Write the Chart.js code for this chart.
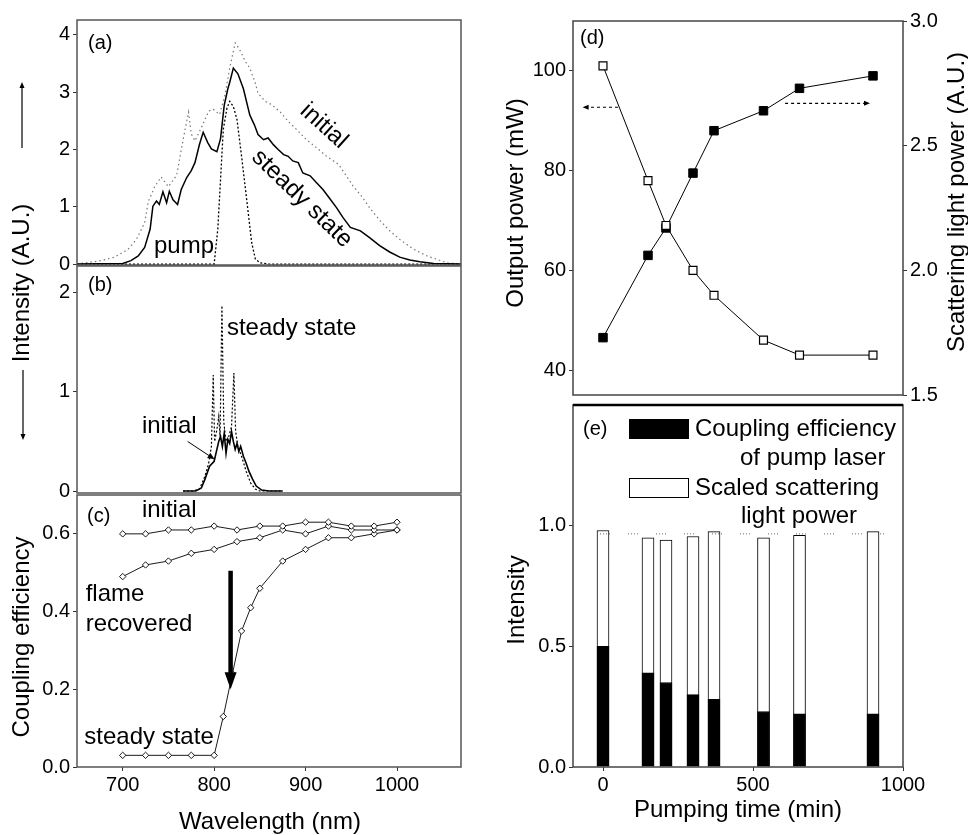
<!DOCTYPE html>
<html lang="en">
<head>
<meta charset="UTF-8">
<title>Spectra, coupling efficiency and pumping time</title>
<style>
  body { margin: 0; background: #fff; }
  #fig { position: relative; width: 968px; height: 835px; background: #fff; overflow: hidden; }
  #fig canvas { position: absolute; }
</style>
</head>
<body>
<div id="fig">
  <canvas id="chartA" width="480" height="280" style="left:0;top:0"></canvas>
  <canvas id="chartB" width="480" height="328" style="left:0;top:180px"></canvas>
  <canvas id="chartC" width="480" height="355" style="left:0;top:480px"></canvas>
  <canvas id="chartD" width="478" height="410" style="left:490px;top:0"></canvas>
  <canvas id="chartE" width="478" height="445" style="left:490px;top:390px"></canvas>
</div>
<script src="https://cdn.jsdelivr.net/npm/chart.js"></script>
<script>
// ---- (a) emission spectra ----
const nmSteadyA = [650, 700, 709, 717, 724, 730, 733, 737, 740, 744, 748, 751, 755, 760, 764, 770, 775, 779, 784, 788, 793, 797, 803, 807, 811, 815, 817, 821, 826, 832, 839, 844, 848, 854, 859, 865, 870, 876, 881, 886, 892, 897, 905, 912, 919, 927, 934, 941, 949, 960, 970, 981, 992, 1003, 1014, 1025, 1040, 1070];
const steadyA = [0, 0.01, 0.06, 0.14, 0.29, 0.61, 1.01, 1.10, 1.04, 1.26, 1.07, 1.27, 1.12, 1.04, 1.30, 1.51, 1.63, 1.77, 2.09, 2.30, 2.12, 2.01, 1.96, 2.19, 2.77, 3.06, 3.17, 3.42, 3.32, 3.06, 2.60, 2.43, 2.26, 2.17, 2.20, 2.08, 2.00, 1.91, 1.88, 1.80, 1.77, 1.59, 1.54, 1.42, 1.30, 1.13, 0.98, 0.81, 0.64, 0.58, 0.46, 0.32, 0.21, 0.12, 0.07, 0.04, 0.01, 0];
const nmInitialA = [650, 677, 691, 706, 715, 724, 728, 735, 742, 750, 759, 764, 768, 772, 775, 779, 786, 794, 799, 806, 812, 817, 823, 828, 834, 839, 845, 848, 856, 863, 872, 881, 890, 901, 912, 923, 936, 945, 952, 961, 971, 982, 992, 1003, 1018, 1033, 1044, 1055, 1070];
const initialA = [0, 0.06, 0.12, 0.26, 0.43, 0.72, 1.09, 1.35, 1.52, 1.35, 1.55, 1.99, 2.33, 2.65, 2.27, 2.15, 2.38, 2.67, 2.70, 2.61, 2.96, 3.42, 3.86, 3.74, 3.54, 3.42, 3.16, 2.98, 2.84, 2.78, 2.66, 2.49, 2.35, 2.17, 2.03, 1.88, 1.74, 1.53, 1.36, 1.19, 0.96, 0.75, 0.58, 0.43, 0.26, 0.14, 0.08, 0.02, 0];
const nmPumpA = [650, 800, 804, 807, 810, 814, 817, 821, 825, 830, 836, 841, 845, 850, 860, 1070];
const pumpA = [0, 0, 0.61, 1.48, 2.35, 2.72, 2.84, 2.75, 2.52, 1.88, 1.07, 0.38, 0.09, 0.02, 0, 0];

// ---- (b) transmitted pump spectra ----
const nmSteadyB = [766, 777, 784, 790, 794, 797, 799, 800.5, 803, 805, 806.5, 808.5, 810.5, 813, 816, 819, 821.6, 823.5, 826, 830, 835, 840, 845, 850, 875];
const steadyB = [0, 0, 0.02, 0.15, 0.28, 0.45, 1.17, 0.5, 0.62, 0.75, 0.55, 1.87, 0.7, 0.5, 0.55, 0.65, 1.19, 0.6, 0.45, 0.35, 0.2, 0.08, 0.02, 0, 0];
const nmInitialB = [766, 780, 786, 790, 795, 800, 803, 805, 807, 809, 811, 813, 815, 817, 819, 821, 823, 825, 827, 829, 832, 835, 838, 842, 846, 852, 860, 875];
const initialB = [0, 0, 0.03, 0.12, 0.25, 0.30, 0.42, 0.50, 0.55, 0.45, 0.58, 0.38, 0.52, 0.48, 0.60, 0.50, 0.42, 0.48, 0.40, 0.45, 0.35, 0.28, 0.20, 0.12, 0.05, 0.01, 0, 0];

// ---- (c) coupling efficiency ----
const nmC = [700, 725, 750, 775, 800, 825, 850, 875, 900, 925, 950, 975, 1000];
const initialC = [0.60, 0.60, 0.61, 0.61, 0.62, 0.61, 0.62, 0.62, 0.63, 0.63, 0.62, 0.62, 0.63];
const flameC = [0.49, 0.52, 0.53, 0.55, 0.56, 0.58, 0.59, 0.61, 0.60, 0.62, 0.61, 0.61, 0.61];
const nmSteadyC = [700, 725, 750, 775, 800, 810, 820, 830, 840, 850, 875, 900, 925, 950, 975, 1000];
const steadyC = [0.03, 0.03, 0.03, 0.03, 0.03, 0.13, 0.24, 0.35, 0.41, 0.46, 0.53, 0.56, 0.59, 0.59, 0.60, 0.61];

// ---- (d), (e) versus pumping time ----
const pumpTime = [0, 150, 210, 300, 370, 535, 655, 900];
const outputPower = [101, 78, 69, 60, 55, 46, 43, 43];
const scatterPower = [1.73, 2.06, 2.17, 2.39, 2.56, 2.64, 2.73, 2.78];
const couplingEff = [0.50, 0.39, 0.35, 0.30, 0.28, 0.23, 0.22, 0.22];
const barTotal = [0.98, 0.95, 0.94, 0.955, 0.975, 0.95, 0.96, 0.975];
const refLevel = 0.966;

const ticksWl = [700, 800, 900, 1000];
const ticksA = [0, 1, 2, 3, 4];
const ticksB = [0, 1, 2];
const ticksC = [0, 0.2, 0.4, 0.6];
const ticksPower = [40, 60, 80, 100];
const ticksScatter = [1.5, 2.0, 2.5, 3.0];
const ticksTime = [0, 500, 1000];
const ticksE = [0, 0.5, 1.0];

const FONT = '"Liberation Sans", Arial, sans-serif';
Chart.defaults.font.family = FONT;
Chart.defaults.font.size = 20;
Chart.defaults.color = '#000';

function xy(xs, ys) { return xs.map((x, i) => ({ x: x, y: ys[i] })); }

function label(ctx, s, x, y, size, align, angle) {
  ctx.save();
  ctx.font = size + 'px ' + FONT;
  ctx.fillStyle = '#000';
  ctx.textAlign = align || 'left';
  ctx.textBaseline = 'middle';
  ctx.translate(x, y);
  if (angle) ctx.rotate(angle * Math.PI / 180);
  ctx.fillText(s, 0, 0);
  ctx.restore();
}

function arrow(ctx, x1, y1, x2, y2, o) {
  o = o || {};
  const head = o.head || 6, hw = o.hw || 3;
  const a = Math.atan2(y2 - y1, x2 - x1), c = Math.cos(a), s = Math.sin(a);
  ctx.save();
  ctx.strokeStyle = '#000';
  ctx.fillStyle = '#000';
  ctx.lineWidth = o.width || 1;
  ctx.setLineDash(o.dash || []);
  ctx.beginPath();
  ctx.moveTo(x1, y1);
  ctx.lineTo(x2 - c * head * 0.8, y2 - s * head * 0.8);
  ctx.stroke();
  ctx.setLineDash([]);
  const bx = x2 - c * head, by = y2 - s * head;
  ctx.beginPath();
  ctx.moveTo(x2, y2);
  ctx.lineTo(bx - s * hw, by + c * hw);
  ctx.lineTo(bx + s * hw, by - c * hw);
  ctx.closePath();
  ctx.fill();
  ctx.restore();
}

const frame = {
  id: 'frame',
  afterDraw(chart, args, opts) {
    const { ctx, chartArea: a } = chart;
    ctx.save();
    ctx.strokeStyle = opts.color || '#555';
    ctx.lineWidth = opts.width || 1.5;
    ctx.strokeRect(a.left, a.top, a.right - a.left, a.bottom - a.top);
    ctx.restore();
  }
};
Chart.register(frame);

function axis(min, max, ticks, size, fmt, position) {
  const horizontal = position === 'bottom';
  return {
    type: 'linear', position: position, min: min, max: max,
    offset: false,
    afterFit: s => { if (horizontal) s.height = size; else s.width = size; },
    afterBuildTicks: s => { s.ticks = ticks.map(v => ({ value: v })); },
    grid: { drawOnChartArea: false, tickLength: 4, color: '#333', offset: false },
    border: { display: false },
    ticks: { padding: horizontal ? 2 : 3, callback: fmt, autoSkip: false, maxRotation: 0 }
  };
}
const hidden = (min, max) => ({ type: 'linear', display: false, min: min, max: max, offset: false });
const int = v => String(v);
const dec1 = v => v.toFixed(1);

function options(padding, scales, frameOpts) {
  return {
    responsive: false,
    animation: false,
    events: [],
    layout: { padding: padding },
    scales: scales,
    elements: { line: { tension: 0 } },
    plugins: { legend: { display: false }, tooltip: { enabled: false }, frame: frameOpts || {} }
  };
}

// ---------- (a) ----------
new Chart(document.getElementById('chartA'), {
  type: 'line',
  data: {
    datasets: [
      { data: xy(nmSteadyA, steadyA), borderColor: '#000', borderWidth: 1.5, pointRadius: 0 },
      { data: xy(nmInitialA, initialA), borderColor: '#777', borderWidth: 1.2, borderDash: [1.5, 3], pointRadius: 0 },
      { data: xy(nmPumpA, pumpA), borderColor: '#000', borderWidth: 1.3, borderDash: [2, 2], pointRadius: 0 }
    ]
  },
  options: options({ top: 20, bottom: 14, left: 0, right: 19 }, {
    x: hidden(650, 1070),
    y: axis(-0.017, 4.26, ticksA, 77, int, 'left')
  }),
  plugins: [{
    id: 'notesA',
    afterDraw(chart) {
      const { ctx, scales: { x, y } } = chart;
      label(ctx, '(a)', x.left + 11, y.top + 23, 20);
      label(ctx, 'pump', x.getPixelForValue(767), y.getPixelForValue(0.30), 24, 'center');
      label(ctx, 'initial', x.getPixelForValue(920), y.getPixelForValue(2.41), 24, 'center', 42);
      label(ctx, 'steady state', x.getPixelForValue(896), y.getPixelForValue(1.14), 24, 'center', 44);
      arrow(ctx, 22, 148, 22, 82, { width: 1.2, head: 6, hw: 2.5 });
    }
  }]
});

// ---------- (b) ----------
new Chart(document.getElementById('chartB'), {
  type: 'line',
  data: {
    datasets: [
      { data: xy(nmInitialB, initialB), borderColor: '#000', borderWidth: 1.6, pointRadius: 0 },
      { data: xy(nmSteadyB, steadyB), borderColor: '#000', borderWidth: 1.2, borderDash: [2, 2], pointRadius: 0 }
    ]
  },
  options: options({ top: 86, bottom: 14, left: 0, right: 19 }, {
    x: hidden(650, 1070),
    y: axis(-0.02, 2.27, ticksB, 77, int, 'left')
  }),
  plugins: [{
    id: 'notesB',
    afterDraw(chart) {
      const { ctx, scales: { x, y } } = chart;
      label(ctx, '(b)', x.left + 11, y.top + 19, 20);
      label(ctx, 'steady state', x.getPixelForValue(814), y.getPixelForValue(1.64), 24);
      label(ctx, 'initial', x.getPixelForValue(721), y.getPixelForValue(0.65), 24);
      arrow(ctx, x.getPixelForValue(771), y.getPixelForValue(0.50), x.getPixelForValue(800.5), y.getPixelForValue(0.32), { width: 1, head: 7, hw: 3 });
      label(ctx, 'Intensity (A.U.)', 22, 103, 24, 'center', -90);
      arrow(ctx, 23, 190, 23, 260, { width: 1.2, head: 6, hw: 2.5 });
    }
  }]
});

// ---------- (c) ----------
const diamond = { pointStyle: 'rectRot', pointRadius: 3.2, pointBackgroundColor: '#fff', pointBorderColor: '#000', pointBorderWidth: 0.9, borderColor: '#000', borderWidth: 0.9 };
new Chart(document.getElementById('chartC'), {
  type: 'line',
  data: {
    datasets: [
      Object.assign({ data: xy(nmC, initialC) }, diamond),
      Object.assign({ data: xy(nmC, flameC) }, diamond),
      Object.assign({ data: xy(nmSteadyC, steadyC) }, diamond)
    ]
  },
  options: options({ top: 14, bottom: 0, left: 0, right: 19 }, {
    x: axis(650, 1070, ticksWl, 68, int, 'bottom'),
    y: axis(0, 0.70, ticksC, 77, dec1, 'left')
  }),
  plugins: [{
    id: 'notesC',
    afterDraw(chart) {
      const { ctx, scales: { x, y } } = chart;
      label(ctx, '(c)', x.left + 10, y.top + 21, 20);
      label(ctx, 'initial', x.getPixelForValue(721), y.getPixelForValue(0.66), 24);
      label(ctx, 'flame', x.getPixelForValue(659.5), y.getPixelForValue(0.445), 24);
      label(ctx, 'recovered', x.getPixelForValue(659.5), y.getPixelForValue(0.368), 24);
      label(ctx, 'steady state', x.getPixelForValue(658), y.getPixelForValue(0.075), 24);
      arrow(ctx, x.getPixelForValue(818), y.getPixelForValue(0.505), x.getPixelForValue(818), y.getPixelForValue(0.20), { width: 4.5, head: 17, hw: 6 });
      label(ctx, 'Coupling efficiency', 22, 157, 24, 'center', -90);
      label(ctx, 'Wavelength (nm)', 270, 342, 24, 'center');
    }
  }]
});

// ---------- (d) ----------
new Chart(document.getElementById('chartD'), {
  type: 'line',
  data: {
    datasets: [
      { data: xy(pumpTime, outputPower), yAxisID: 'yL', borderColor: '#000', borderWidth: 1, pointStyle: 'rect', pointRadius: 5.6, pointBackgroundColor: '#fff', pointBorderColor: '#000', pointBorderWidth: 1.2 },
      { data: xy(pumpTime, scatterPower), yAxisID: 'yR', borderColor: '#000', borderWidth: 1, pointStyle: 'rect', pointRadius: 6, pointBackgroundColor: '#000', pointBorderColor: '#000', pointBorderWidth: 1 }
    ]
  },
  options: options({ top: 21, bottom: 12, left: 0, right: 0 }, {
    x: hidden(-100, 1000),
    yL: axis(35, 110, ticksPower, 83, int, 'left'),
    yR: axis(1.5, 3.0, ticksScatter, 65, dec1, 'right')
  }, { color: '#444' }),
  plugins: [{
    id: 'notesD',
    afterDraw(chart) {
      const { ctx, scales: { x, yL } } = chart;
      label(ctx, '(d)', x.left + 7, yL.top + 17, 20);
      arrow(ctx, x.getPixelForValue(50), yL.getPixelForValue(92.7), x.getPixelForValue(-68), yL.getPixelForValue(92.7), { width: 1.2, dash: [3, 3], head: 6, hw: 2.5 });
      arrow(ctx, x.getPixelForValue(607), yL.getPixelForValue(93.5), x.getPixelForValue(890), yL.getPixelForValue(93.5), { width: 1.2, dash: [3, 3], head: 6, hw: 2.5 });
      label(ctx, 'Output power (mW)', 26, 203, 24, 'center', -90);
      label(ctx, 'Scattering light power (A.U.)', 467, 202, 24, 'center', -90);
    }
  }]
});

// ---------- (e) ----------
new Chart(document.getElementById('chartE'), {
  type: 'bar',
  data: {
    datasets: [
      { type: 'line', order: 0, data: xy([-10, 940], [refLevel, refLevel]), borderColor: '#666', borderWidth: 1, borderDash: [1, 2, 1, 2, 1, 2, 1, 18], pointRadius: 0 },
      { order: 1, data: xy(pumpTime, couplingEff), backgroundColor: '#000', borderColor: '#000', borderWidth: 1, barThickness: 12, grouped: false },
      { order: 2, data: xy(pumpTime, barTotal), backgroundColor: '#fff', borderColor: '#000', borderWidth: 1, barThickness: 12, grouped: false }
    ]
  },
  options: options({ top: 8, bottom: 0, left: 0, right: 65 }, {
    x: axis(-100, 1000, ticksTime, 68, int, 'bottom'),
    y: axis(0, 1.5, ticksE, 83, dec1, 'left')
  }, { color: '#444' }),
  plugins: [{
    id: 'notesE',
    afterDraw(chart) {
      const { ctx, chartArea: a, scales: { x, y } } = chart;
      ctx.save();
      ctx.strokeStyle = '#000';
      ctx.lineWidth = 2.5;
      ctx.beginPath();
      ctx.moveTo(a.left, a.top);
      ctx.lineTo(a.right, a.top);
      ctx.stroke();
      ctx.fillStyle = '#000';
      ctx.fillRect(a.left + 56, a.top + 14, 60, 20);
      ctx.fillStyle = '#fff';
      ctx.lineWidth = 1;
      ctx.fillRect(a.left + 56, a.top + 73, 60, 20);
      ctx.strokeRect(a.left + 56.5, a.top + 73.5, 59, 19);
      ctx.restore();
      label(ctx, '(e)', a.left + 10, a.top + 24, 20);
      label(ctx, 'Coupling efficiency', a.left + 122, a.top + 24, 24);
      label(ctx, 'of pump laser', a.left + 167, a.top + 53, 24);
      label(ctx, 'Scaled scattering', a.left + 122, a.top + 83, 24);
      label(ctx, 'light power', a.left + 168, a.top + 111, 24);
      label(ctx, 'Intensity', 27, 210, 24, 'center', -90);
      label(ctx, 'Pumping time (min)', 248, 420, 24, 'center');
    }
  }]
});
</script>
</body>
</html>
